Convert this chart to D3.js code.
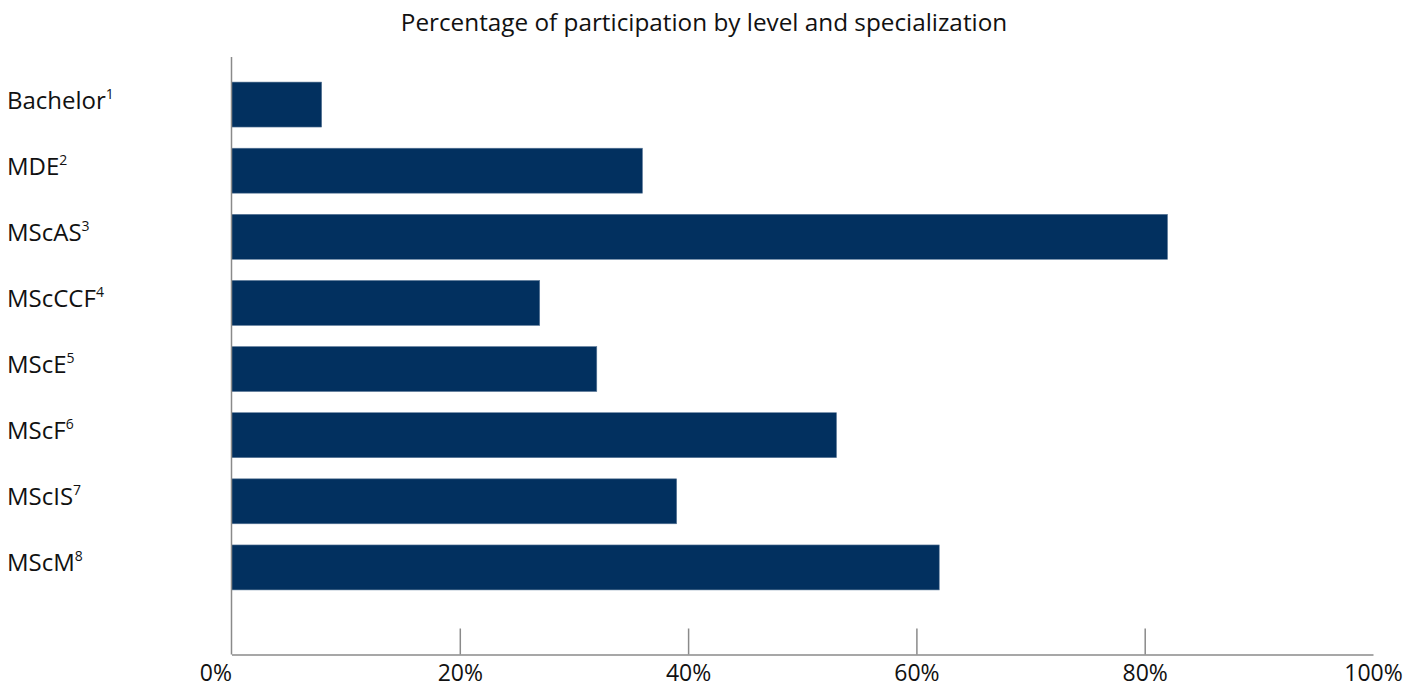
<!DOCTYPE html>
<html><head><meta charset="utf-8">
<script src="https://cdn.jsdelivr.net/npm/d3@7"></script>
<style>
body{margin:0;background:#fff;}
svg{display:block;font-family:"Open Sans",sans-serif;}
</style></head><body>
<svg id="c" width="1405" height="688"></svg>
<script>
const categories = ["Bachelor","MDE","MScAS","MScCCF","MScE","MScF","MScIS","MScM"];
const footnotes = ["1","2","3","4","5","6","7","8"];
const values = [7.9, 36, 82, 27, 32, 53, 39, 62];
const tickValues = [0,20,40,60,80,100];
const title = "Percentage of participation by level and specialization";

const svg = d3.select("#c");
const x = d3.scaleLinear().domain([0,100]).range([231.5,1373]);
const y = d3.scaleBand().domain(categories).range([71.5,600.5]).paddingInner(0.32).paddingOuter(0.16);
const axisY = 654.5;

svg.append("text").attr("x",704).attr("y",31).attr("text-anchor","middle")
  .attr("font-size",24.3).attr("fill","#111").text(title);

// bars
svg.append("g").selectAll("rect").data(categories).join("rect")
  .attr("x",x(0)).attr("y",d=>y(d)).attr("width",(d,i)=>x(values[i])-x(0))
  .attr("height",y.bandwidth()).attr("fill","#02305f")
  .attr("stroke","#5d7a99").attr("stroke-width",0.6);

// y axis line
svg.append("line").attr("x1",x(0)).attr("x2",x(0)).attr("y1",57).attr("y2",axisY)
  .attr("stroke","#8a8a8a").attr("stroke-width",1.5);

// bottom axis
const xAxis = d3.axisBottom(x).tickValues(tickValues).tickFormat(d=>d+"%").tickSize(0).tickPadding(10);
const gx = svg.append("g").attr("transform",`translate(0,${axisY})`).call(xAxis);
gx.select(".domain").attr("stroke","#8a8a8a").attr("stroke-width",1.5);
gx.selectAll("text").attr("font-size",23).attr("fill","#111").attr("font-family","Open Sans, sans-serif")
  .attr("text-anchor",d=>d===0?"end":"middle");
gx.selectAll(".tick").filter(d=>d>0&&d<100).append("line")
  .attr("y1",0).attr("y2",-26).attr("stroke","#8a8a8a").attr("stroke-width",1.5);

// category labels
const lab = svg.append("g").selectAll("text").data(categories).join("text")
  .attr("x",7).attr("y",d=>y(d)+y.bandwidth()/2+4)
  .attr("font-size",24).attr("fill","#111");
lab.append("tspan").text(d=>d);
lab.append("tspan").attr("font-size",14).attr("dy",-10).text((d,i)=>footnotes[i]);
</script>
</body></html>
